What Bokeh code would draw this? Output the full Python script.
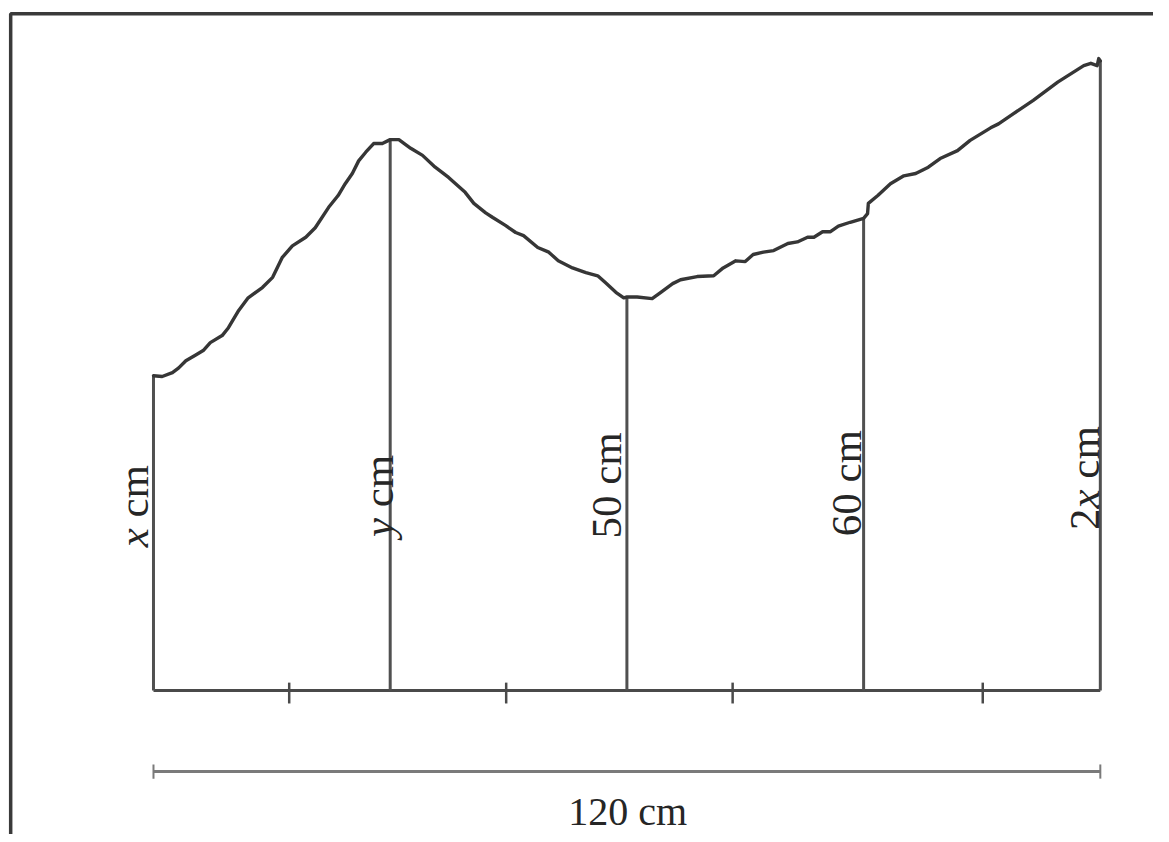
import math
from bokeh.plotting import figure
from bokeh.models import Range1d
from bokeh.core.properties import value
from bokeh.embed import file_html
from bokeh.resources import INLINE

# ---- data (all in cm, diagram is drawn to scale) ----
post_x = [0, 30, 60, 90, 120]
post_h = [40, 70, 50, 60, 80]

# label pieces (italic flags mark the algebraic letters)
label_parts = [["x", " cm"], ["y", " cm"], ["50 cm"], ["60 cm"], ["2", "x", " cm"]]
label_italic = [[True, False], [True, False], [False], [False], [False, True, False]]
label_base_x = [-2.5, 28.5, 57.4, 87.8, 118.0]
label_start_y = [18.2, 19.5, 19.3, 19.6, 20.4]

tick_x = [17.2, 44.7, 73.4, 105.1]

span_label = "120 cm"
span_from, span_to = 0, 120
span_y = -10.3
span_label_x = 60.1
span_label_y = -15.4

curve_x = [0, 1.1, 2.4, 3.2, 4.1, 5.3, 6.3, 7.2, 8.7, 9.5, 10.8, 12.0, 13.8, 15.1,
           16.3, 17.6, 19.3, 20.5, 22.2, 23.4, 24.3, 25.2, 26.0, 26.9, 27.9, 29.0,
           30.0, 31.1, 32.6, 34.1, 35.7, 37.4, 39.5, 40.6, 42.1, 43.0, 44.6, 45.9,
           46.9, 48.7, 50.1, 51.3, 53.1, 54.8, 56.3, 57.3, 58.6, 59.6, 60.0, 61.3,
           63.2, 64.3, 65.8, 66.8, 68.9, 71.0, 72.2, 73.8, 75.0, 76.0, 77.3, 78.6,
           80.4, 81.6, 82.9, 83.7, 84.8, 85.8, 86.8, 88.3, 90.0, 90.5, 90.6, 91.8,
           93.4, 95.1, 96.6, 98.2, 99.7, 101.9, 103.5, 106.1, 107.1, 109.0, 111.5,
           114.6, 117.9, 118.8, 119.6, 119.8, 120.0]
curve_y = [40.0, 39.9, 40.4, 41.0, 41.9, 42.6, 43.2, 44.2, 45.1, 46.1, 48.3, 49.9,
           51.2, 52.5, 55.0, 56.5, 57.6, 58.8, 61.4, 62.9, 64.4, 65.7, 67.3, 68.4,
           69.5, 69.5, 70.0, 70.0, 68.9, 68.0, 66.5, 65.2, 63.3, 61.9, 60.7, 60.1,
           59.1, 58.2, 57.8, 56.3, 55.7, 54.6, 53.7, 53.1, 52.7, 51.8, 50.6, 49.9,
           50.0, 50.0, 49.8, 50.6, 51.7, 52.2, 52.6, 52.7, 53.7, 54.6, 54.5, 55.4,
           55.7, 55.9, 56.8, 57.0, 57.6, 57.6, 58.3, 58.3, 59.0, 59.5, 60.0, 60.6,
           61.9, 62.9, 64.4, 65.4, 65.7, 66.5, 67.6, 68.6, 69.9, 71.5, 72.0, 73.3,
           75.0, 77.3, 79.4, 79.7, 79.4, 80.3, 80.0]

# page frame (box round the drawing, cut off at right and bottom)
frame_left, frame_top = -18.1, 86.0

# ---- styling ----
FONT = "Liberation Serif"
FS_PX = 43
SPAN_FS_PX = 40
PX_PER_CM = 7.88
INK = "#262626"

p = figure(width=1153, height=834, output_backend="svg", toolbar_location=None,
           x_range=Range1d(-19.39, 126.74), y_range=Range1d(-18.30, 87.68),
           min_border=0, background_fill_color="white", border_fill_color="white")
p.axis.visible = False
p.grid.visible = False
p.outline_line_color = None

# frame
p.line(x=[frame_left, frame_left, 140], y=[-30, frame_top, frame_top],
       line_color="#3a3a3a", line_width=3.5)

# ground line and ticks
p.line(x=[post_x[0], post_x[-1]], y=[0, 0], line_color="#4a4a4a", line_width=3)
p.segment(x0=tick_x, y0=[1.0] * len(tick_x), x1=tick_x, y1=[-1.65] * len(tick_x),
          line_color="#4a4a4a", line_width=2.5)

# vertical posts
p.segment(x0=post_x, y0=[0] * len(post_x), x1=post_x, y1=post_h,
          line_color="#505050", line_width=3)

# top profile
p.line(x=curve_x, y=curve_y, line_color="#363636", line_width=3.4,
       line_join="round", line_cap="round")

# span dimension line
cap = 0.9
p.line(x=[span_from, span_to], y=[span_y, span_y], line_color="#7a7a7a", line_width=3)
p.segment(x0=[span_from, span_to], y0=[span_y - cap] * 2, x1=[span_from, span_to],
          y1=[span_y + cap] * 2, line_color="#7a7a7a", line_width=2)
p.text(x=[span_label_x], y=[span_label_y], text=[span_label], text_align="center",
       text_baseline="alphabetic", text_font=value(FONT),
       text_font_size=f"{SPAN_FS_PX}px", text_color=INK)

# rotated labels, assembled from upright and italic pieces
adv_roman = {" ": 0.25, "c": 0.444, "m": 0.778}
adv_roman.update({d: 0.5 for d in "0123456789"})
adv_italic = {"x": 0.444, "y": 0.444}

def advance(s, italic):
    tbl = adv_italic if italic else adv_roman
    return sum(tbl.get(ch, 0.5) for ch in s) * FS_PX / PX_PER_CM

seg = {False: dict(x=[], y=[], t=[]), True: dict(x=[], y=[], t=[])}
for parts, flags, bx, sy in zip(label_parts, label_italic, label_base_x, label_start_y):
    pos = sy
    for s, it in zip(parts, flags):
        lead = s[: len(s) - len(s.lstrip(" "))]
        pos += advance(lead, it)
        body = s.lstrip(" ")
        seg[it]["x"].append(bx)
        seg[it]["y"].append(pos)
        seg[it]["t"].append(body)
        pos += advance(body, it)

for it in (False, True):
    p.text(x=seg[it]["x"], y=seg[it]["y"], text=seg[it]["t"], angle=math.pi / 2,
           text_align="left", text_baseline="alphabetic", text_font=value(FONT),
           text_font_style="italic" if it else "normal", text_font_size=f"{FS_PX}px",
           text_color=INK)

open("out.html", "w").write(file_html(p, INLINE))
